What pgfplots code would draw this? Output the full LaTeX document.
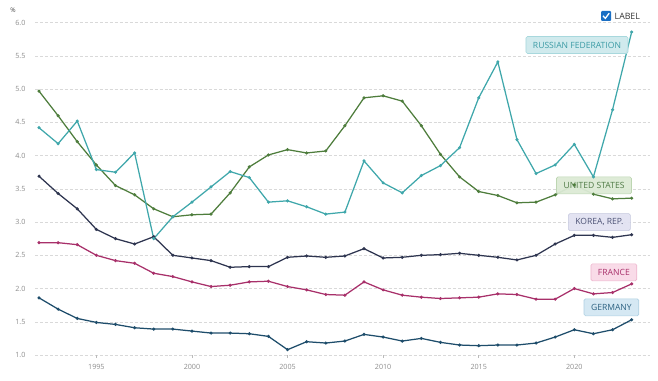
\documentclass[border=0pt]{standalone}
\usepackage{pgfplots}
\pgfplotsset{compat=1.18}
\usepackage{fontspec}
\setmainfont{Open Sans}
\definecolor{rus}{HTML}{3FA7AB}
\definecolor{usa}{HTML}{4E7D3C}
\definecolor{kor}{HTML}{2E3550}
\definecolor{fra}{HTML}{A8306A}
\definecolor{ger}{HTML}{1E4D6B}
\definecolor{tickgray}{HTML}{8C8C8C}
\definecolor{gridgray}{HTML}{D9D9D9}
\definecolor{chk}{HTML}{1A6FC4}
\definecolor{rusF}{HTML}{CDE9EC}\definecolor{rusB}{HTML}{A8D8DD}\definecolor{rusT}{HTML}{3C9BA5}
\definecolor{usaF}{HTML}{DCEAD5}\definecolor{usaB}{HTML}{BDD6B2}\definecolor{usaT}{HTML}{4F7A45}
\definecolor{korF}{HTML}{E1E2F1}\definecolor{korB}{HTML}{C5C7DE}\definecolor{korT}{HTML}{4D5275}
\definecolor{fraF}{HTML}{F9D9E7}\definecolor{fraB}{HTML}{EDB5CD}\definecolor{fraT}{HTML}{A8306A}
\definecolor{gerF}{HTML}{D3E7F2}\definecolor{gerB}{HTML}{AFD0E2}\definecolor{gerT}{HTML}{2D6282}
\pgfplotstableread{
year rus usa kor fra ger
1992 4.42 4.97 3.69 2.69 1.86
1993 4.18 4.60 3.43 2.69 1.69
1994 4.52 4.21 3.20 2.66 1.55
1995 3.79 3.86 2.89 2.50 1.49
1996 3.75 3.55 2.75 2.42 1.46
1997 4.04 3.41 2.67 2.38 1.41
1998 2.75 3.20 2.78 2.23 1.39
1999 3.08 3.08 2.50 2.18 1.39
2000 3.30 3.11 2.46 2.10 1.36
2001 3.53 3.12 2.42 2.03 1.33
2002 3.76 3.44 2.32 2.05 1.33
2003 3.67 3.83 2.33 2.10 1.32
2004 3.30 4.01 2.33 2.11 1.28
2005 3.32 4.09 2.47 2.03 1.08
2006 3.23 4.04 2.49 1.98 1.20
2007 3.12 4.07 2.47 1.91 1.18
2008 3.15 4.45 2.49 1.90 1.21
2009 3.92 4.87 2.60 2.10 1.31
2010 3.59 4.90 2.46 1.98 1.27
2011 3.44 4.82 2.47 1.90 1.21
2012 3.70 4.45 2.50 1.87 1.25
2013 3.85 4.02 2.51 1.85 1.19
2014 4.12 3.68 2.53 1.86 1.15
2015 4.87 3.46 2.50 1.87 1.14
2016 5.41 3.40 2.47 1.92 1.15
2017 4.24 3.29 2.43 1.91 1.15
2018 3.73 3.30 2.50 1.84 1.18
2019 3.86 3.41 2.67 1.84 1.27
2020 4.17 3.56 2.80 2.00 1.38
2021 3.68 3.42 2.80 1.92 1.32
2022 4.69 3.35 2.77 1.94 1.38
2023 5.86 3.36 2.81 2.07 1.53
}\datatable
\begin{document}
\begin{tikzpicture}
\path[use as bounding box] (0bp,0bp) rectangle (658bp,381bp);
\begin{axis}[
  at={(35bp,26bp)}, anchor=south west,
  scale only axis, width=615bp, height=332.3bp,
  xmin=1991.79, xmax=2023.96, ymin=1, ymax=6,
  axis line style={draw=none}, clip=false,
  ytick={1,1.5,...,6.01},
  yticklabel style={/pgf/number format/.cd,fixed,fixed zerofill,precision=1,/tikz/.cd},
  xtick={1995,2000,2005,2010,2015,2020},
  xticklabel style={/pgf/number format/1000 sep={}},
  /pgf/number format/assume math mode=true,
  xtick pos=bottom, ytick pos=left, tick align=outside,
  major tick length=3bp,
  xtick style={draw=tickgray!60, line width=0.5bp},
  ytick style={draw=none},
  ymajorgrids, grid style={gridgray, densely dashed, line width=0.5bp},
  every tick label/.append style={font=\fontsize{7.2}{8}\selectfont, text=tickgray},
  yticklabel style={anchor=east, xshift=-3bp},
  xticklabel style={anchor=north, yshift=-3bp},
  every axis plot/.append style={line width=1.25bp, mark=*, mark size=0.85bp, mark options={draw=none, fill=black!75}},
]
\addplot[ger] table[x=year,y=ger]{\datatable};
\addplot[fra] table[x=year,y=fra]{\datatable};
\addplot[kor] table[x=year,y=kor]{\datatable};
\addplot[usa] table[x=year,y=usa]{\datatable};
\addplot[rus] table[x=year,y=rus]{\datatable};
\tikzset{lab/.style={rounded corners=1.5bp, line width=0.6bp, minimum height=17bp, inner xsep=7bp, inner ysep=0pt, font=\fontsize{8.6}{10}\selectfont, fill opacity=0.95, text opacity=1}}
\node[lab, fill=rusF, draw=rusB, text=rusT] at (axis cs:2020.14,5.665) {RUSSIAN FEDERATION};
\node[lab, fill=usaF, draw=usaB, text=usaT] at (axis cs:2021.03,3.552) {UNITED STATES};
\node[lab, fill=korF, draw=korB, text=korT] at (axis cs:2021.31,3.0) {KOREA, REP.};
\node[lab, fill=fraF, draw=fraB, text=fraT] at (axis cs:2022.07,2.244) {FRANCE};
\node[lab, fill=gerF, draw=gerB, text=gerT] at (axis cs:2021.94,1.717) {GERMANY};
\end{axis}
\node[font=\fontsize{6.5}{7}\selectfont, text=black!70] at (13bp,371bp) {\%};
\fill[chk, rounded corners=1bp] (601bp,360bp) rectangle (611bp,370bp);
\draw[white, line width=1.3bp] (603bp,365.2bp) -- (605.3bp,362.6bp) -- (609.2bp,367.8bp);
\node[anchor=west, font=\fontsize{8.8}{10}\selectfont, text=black!80, inner sep=0pt] at (614.5bp,365bp) {LABEL};
\end{tikzpicture}
\end{document}
